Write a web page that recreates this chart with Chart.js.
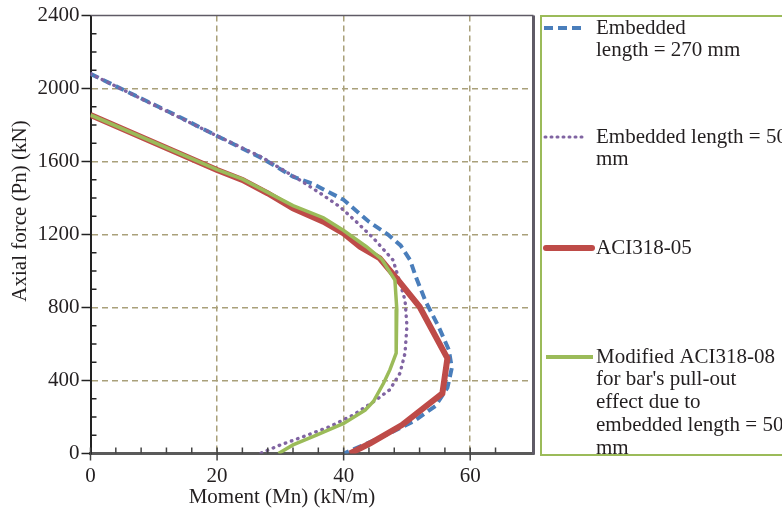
<!DOCTYPE html>
<html>
<head>
<meta charset="utf-8">
<script src="https://cdn.jsdelivr.net/npm/chart.js@4.4.1/dist/chart.umd.min.js"></script>
<style>
  html, body { margin: 0; padding: 0; background: #fff; }
  #wrap { width: 782px; height: 513px; overflow: hidden; }
</style>
</head>
<body>
<div id="wrap"><canvas id="chart" width="782" height="513"></canvas></div>
<script>
// ===== DATA =====
const xMajorStep = 20;
const yMajorStep = 400;

// Embedded length = 270 mm
const emb270Moment = [0, 14, 20, 27, 32, 35, 40, 44, 47, 49, 50.5, 51.5, 53, 55, 56.6, 57.1, 56.4, 54.5, 51, 46, 43, 40];
const emb270Axial  = [2080, 1845, 1740, 1620, 1517, 1480, 1390, 1270, 1200, 1140, 1060, 960, 830, 695, 570, 470, 360, 260, 175, 90, 45, 0];

// Embedded length = 500 mm
const emb500Moment = [0, 20, 27, 33, 36.3, 39.4, 42, 44.7, 47.8, 48.6, 49.7, 50, 49.7, 48.9, 47.3, 45, 41.5, 37.8, 33.6, 30, 26.8];
const emb500Axial  = [2080, 1740, 1625, 1500, 1426, 1352, 1270, 1180, 1060, 970, 840, 700, 550, 440, 350, 290, 211, 147, 92, 47, 0];

// ACI318-05
const aciMoment = [0, 20, 24, 28, 32, 36.8, 40, 42.6, 45.7, 48.6, 52, 56.4, 55.6, 49.2, 44.2, 41];
const aciAxial  = [1855, 1553, 1499, 1426, 1343, 1270, 1206, 1133, 1070, 950, 804, 522, 330, 156, 56, 0];

// Modified ACI318-08
const modMoment = [0, 20, 24, 32, 36.8, 40, 43.6, 46, 48.1, 48.4, 48.3, 47.3, 46.3, 44.7, 43.4, 40, 35.7, 32, 29.7];
const modAxial  = [1855, 1556, 1503, 1358, 1292, 1222, 1133, 1065, 951, 790, 550, 458, 385, 285, 238, 165, 101, 47, 0];

const legendText = [
    ["Embedded", "length = 270 mm"],
    ["Embedded length = 500", "mm"],
    ["ACI318-05"],
    ["Modified ACI318-08", "for bar's pull-out", "effect due to", "embedded length = 500", "mm"]
];

const toPoints = (xs, ys) => xs.map((v, i) => ({ x: v, y: ys[i] }));

const FONT = '"Liberation Serif", "Times New Roman", serif';
const TEXT = '#231f20';
const GRID = '#a9a07a';
const colors = ['#4a7ebb', '#8064a2', '#be4b48', '#9bbb59'];

Chart.defaults.font.family = FONT;
Chart.defaults.font.size = 21;
Chart.defaults.color = TEXT;

// ===== OVERLAY: ticks, frame, titles, legend =====
const overlay = {
    id: 'overlay',
    afterDraw(chart) {
        const { ctx, chartArea: a, scales: { x, y } } = chart;
        const line = (x1, y1, x2, y2) => { ctx.beginPath(); ctx.moveTo(x1, y1); ctx.lineTo(x2, y2); ctx.stroke(); };
        ctx.save();

        // top + right frame
        ctx.strokeStyle = '#5f5b66';
        ctx.lineWidth = 1.5;
        line(a.left, a.top, a.right, a.top);
        ctx.lineWidth = 3;
        line(a.right, a.top, a.right, a.bottom + 1);

        // tick marks
        ctx.strokeStyle = '#222';
        ctx.lineWidth = 1.5;
        y.ticks.forEach(t => {
            const py = y.getPixelForValue(t.value);
            if (t.value % yMajorStep === 0) line(a.left - 9, py, a.left, py);
            else line(a.left, py, a.left + 6, py);
        });
        ctx.strokeStyle = '#444';
        x.ticks.forEach(t => {
            if (t.value >= x.max) return;
            const px = x.getPixelForValue(t.value);
            if (t.value % xMajorStep === 0) line(px, a.bottom - 6, px, a.bottom + 7);
            else line(px, a.bottom - 6, px, a.bottom);
        });

        // axis titles
        ctx.fillStyle = TEXT;
        ctx.font = '21px ' + FONT;
        ctx.textAlign = 'center';
        ctx.textBaseline = 'middle';
        ctx.fillText('Moment (Mn) (kN/m)', 282, 497);
        ctx.save();
        ctx.translate(20, 211);
        ctx.rotate(-Math.PI / 2);
        ctx.fillText('Axial force (Pn) (kN)', 0, 0);
        ctx.restore();

        // legend box
        ctx.strokeStyle = '#9bbb59';
        ctx.lineWidth = 2;
        ctx.strokeRect(541, 16, 300, 439);

        const rows = [28, 137, 248, 357];
        const samples = [
            { dash: [9, 5], width: 4, cap: 'butt', x1: 544, x2: 586 },
            { dash: [1, 5], width: 3, cap: 'round', x1: 545, x2: 586 },
            { dash: [], width: 6, cap: 'round', x1: 546, x2: 592 },
            { dash: [], width: 4, cap: 'butt', x1: 546, x2: 593 }
        ];
        legendText.forEach((lines, i) => {
            const s = samples[i];
            ctx.strokeStyle = colors[i];
            ctx.lineWidth = s.width;
            ctx.lineCap = s.cap;
            ctx.setLineDash(s.dash);
            line(s.x1, rows[i], s.x2, rows[i]);
            ctx.setLineDash([]);
            ctx.textAlign = 'left';
            ctx.fillStyle = TEXT;
            lines.forEach((txt, j) => ctx.fillText(txt, 596, rows[i] + j * 22.8));
        });
        ctx.restore();
    }
};

new Chart(document.getElementById('chart'), {
    type: 'scatter',
    data: {
        datasets: [
            {
                label: legendText[0].join(' '),
                data: toPoints(emb270Moment, emb270Axial),
                showLine: true,
                borderColor: colors[0],
                borderWidth: 4,
                borderDash: [9, 5],
                pointRadius: 0,
                order: 4
            },
            {
                label: legendText[1].join(' '),
                data: toPoints(emb500Moment, emb500Axial),
                showLine: true,
                borderColor: colors[1],
                borderWidth: 3.4,
                borderDash: [0.5, 6],
                borderCapStyle: 'round',
                pointRadius: 0,
                order: 3
            },
            {
                label: legendText[2][0],
                data: toPoints(aciMoment, aciAxial),
                showLine: true,
                borderColor: colors[2],
                borderWidth: 6,
                pointRadius: 0,
                order: 2
            },
            {
                label: legendText[3].join(' '),
                data: toPoints(modMoment, modAxial),
                showLine: true,
                borderColor: colors[3],
                borderWidth: 3.5,
                pointRadius: 0,
                order: 1
            }
        ]
    },
    options: {
        responsive: false,
        animation: false,
        layout: { padding: { left: 0, right: 248.5, top: 15.5, bottom: 0 } },
        plugins: {
            legend: { display: false },
            tooltip: { enabled: false }
        },
        scales: {
            x: {
                type: 'linear',
                min: 0,
                max: 70,
                afterFit: s => { s.height = 59.5; s.paddingLeft = 0; s.paddingRight = 0; },
                ticks: {
                    stepSize: 4,
                    autoSkip: false,
                    maxRotation: 0,
                    padding: 10,
                    callback: v => (v % xMajorStep === 0 ? String(v) : '')
                },
                grid: {
                    drawTicks: false,
                    lineWidth: 1.5,
                    color: c => (c.tick && c.tick.value % xMajorStep === 0 && c.tick.value > 0 && c.tick.value < 70) ? GRID : 'transparent'
                },
                border: { color: '#5a5a5a', width: 3, dash: [6, 4] }
            },
            y: {
                type: 'linear',
                min: 0,
                max: 2400,
                afterFit: s => { s.width = 90.5; s.paddingTop = 0; s.paddingBottom = 0; },
                ticks: {
                    stepSize: 100,
                    autoSkip: false,
                    padding: 11,
                    callback: v => (v % yMajorStep === 0 ? String(v) : '')
                },
                grid: {
                    drawTicks: false,
                    lineWidth: 1.5,
                    color: c => (c.tick && c.tick.value % yMajorStep === 0 && c.tick.value > 0 && c.tick.value < 2400) ? GRID : 'transparent'
                },
                border: { color: '#222', width: 2, dash: [6, 4] }
            }
        }
    },
    plugins: [overlay]
});
</script>
</body>
</html>
